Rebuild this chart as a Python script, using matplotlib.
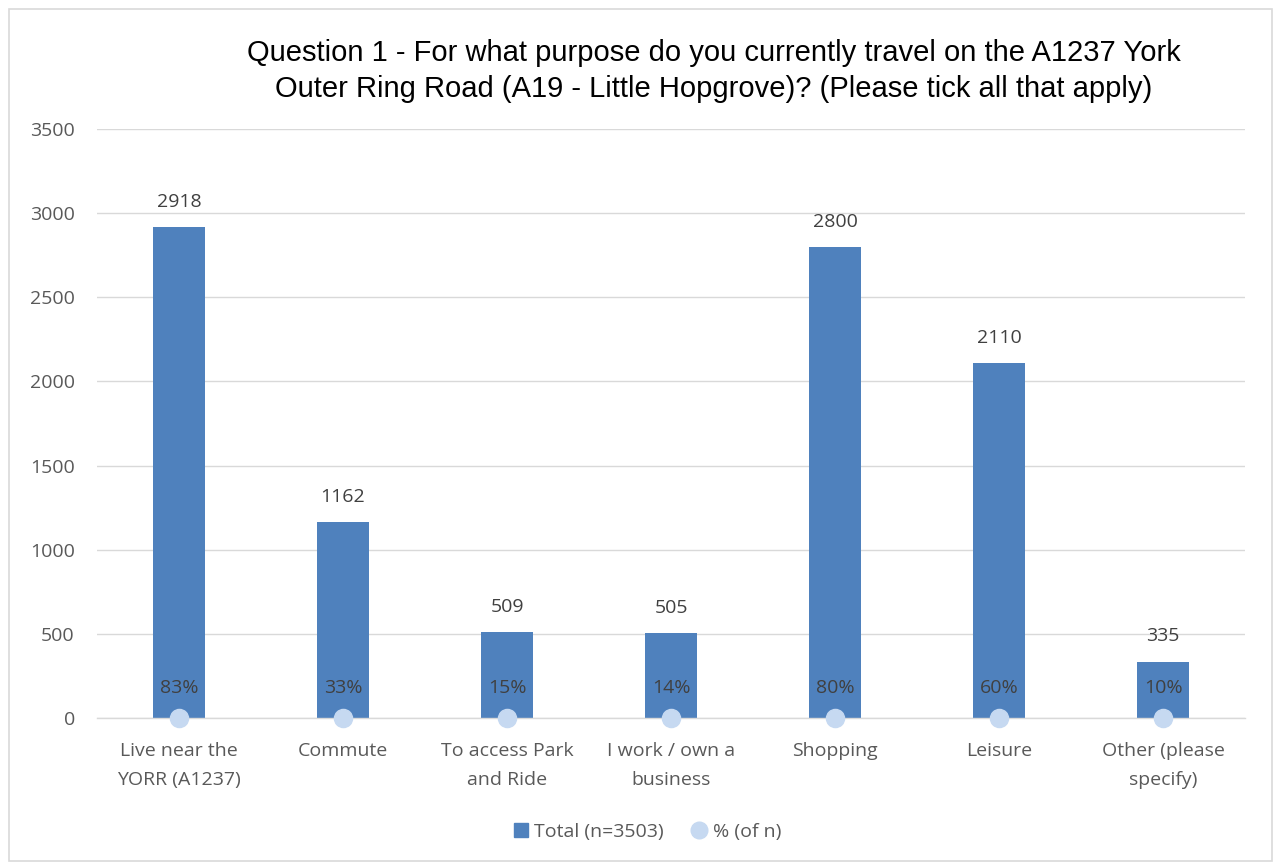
import matplotlib
matplotlib.use("Agg")
import matplotlib.pyplot as plt
from matplotlib.patches import Rectangle
from matplotlib.lines import Line2D

categories = ["Live near the\nYORR (A1237)", "Commute", "To access Park\nand Ride",
              "I work / own a\nbusiness", "Shopping", "Leisure", "Other (please\nspecify)"]
totals = [2918, 1162, 509, 505, 2800, 2110, 335]
pct = [0.83, 0.33, 0.15, 0.14, 0.80, 0.60, 0.10]
yticks = [0, 500, 1000, 1500, 2000, 2500, 3000, 3500]
title = "Question 1 - For what purpose do you currently travel on the A1237 York\nOuter Ring Road (A19 - Little Hopgrove)? (Please tick all that apply)"

BAR = "#4F81BD"
DOT = "#C6D9F1"
TXT = "#595959"
LBL = "#404040"
GRID = "#D9D9D9"
FONT = ["Open Sans", "DejaVu Sans"]
FS = 14

fig = plt.figure(figsize=(12.74, 8.63), dpi=100)
fig.patches.append(Rectangle((9/1274, 2/863), 1263/1274, 852/863, transform=fig.transFigure,
                             fill=False, edgecolor=GRID, linewidth=1.2))
ax = fig.add_axes([97/1274, (863-718)/863, (1245-97)/1274, (718-129)/863])
x = list(range(len(categories)))
ax.bar(x, totals, width=0.317, color=BAR, zorder=2)
ax.scatter(x, pct, s=170, color=DOT, zorder=3, clip_on=False)
for xi, v in zip(x, totals):
    ax.text(xi, v + 150, str(v), ha="center", va="center", fontsize=FS, color=LBL, family=FONT)
for xi, p in zip(x, pct):
    ax.text(xi, 176, f"{round(p*100)}%", ha="center", va="center", fontsize=FS, color=LBL, family=FONT, zorder=4)
ax.set_xlim(-0.5, len(categories) - 0.5)
ax.set_ylim(0, 3500)
ax.set_yticks(yticks)
ax.set_yticklabels([str(t) for t in yticks], family=FONT, fontsize=FS, color=TXT)
ax.set_xticks(x)
ax.set_xticklabels(categories, family=FONT, fontsize=FS, color=TXT, linespacing=1.8)
ax.tick_params(axis="both", length=0)
ax.tick_params(axis="x", pad=17)
ax.tick_params(axis="y", pad=16)
ax.grid(axis="y", color=GRID, linewidth=1, zorder=0)
ax.set_axisbelow(True)
for s in ["top", "right", "left"]:
    ax.spines[s].set_visible(False)
ax.spines["bottom"].set_color(GRID)
ax.spines["bottom"].set_linewidth(1)
fig.text(714/1274, 1 - 71/863, title, ha="center", va="center", fontsize=21,
         family=["Liberation Sans", "DejaVu Sans"], color="#000000", linespacing=1.32)
handles = [Line2D([], [], marker="s", linestyle="", color=BAR, markersize=10),
           Line2D([], [], marker="o", linestyle="", color=DOT, markersize=12)]
fig.legend(handles, ["Total (n=3503)", "% (of n)"], loc="center", bbox_to_anchor=(646/1274, 1 - 832/863),
           ncol=2, frameon=False, prop={"family": FONT, "size": FS}, labelcolor=TXT,
           handletextpad=0.2, columnspacing=1.3, handlelength=1.0)
fig.savefig("out.png", dpi=100)
